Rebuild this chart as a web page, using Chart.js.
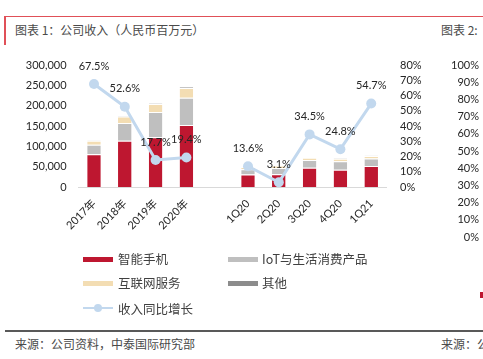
<!DOCTYPE html>
<html><head><meta charset="utf-8">
<script src="https://cdn.jsdelivr.net/npm/chart.js@4.4.1/dist/chart.umd.min.js"></script>
<style>
html,body{margin:0;padding:0;background:#fff;}
#wrap{position:relative;width:483px;height:359px;overflow:hidden;font-family:"Noto Sans CJK SC","Lato",sans-serif;color:#4a4a4a;}
.abs{position:absolute;white-space:nowrap;}
canvas{position:absolute;}
.txt{font-size:12px;line-height:14px;}
.leg{font-size:12.5px;line-height:14px;color:#404040;}
.sw{position:absolute;height:5px;width:30px;}
</style></head>
<body><div id="wrap">
<div class="abs" style="left:4px;top:16px;width:479px;height:1px;background:#E05058;"></div>
<div class="abs" style="left:4px;top:16px;width:2px;height:29px;background:#E05058;"></div>
<div class="abs txt" style="left:15px;top:23px;">图表 1：公司收入（人民币百万元）</div>
<div class="abs txt" style="left:441px;top:23px;">图表 2:</div>

<canvas id="c1" width="483" height="250" style="left:0;top:0;"></canvas>
<canvas id="c2" width="100" height="250" style="left:400px;top:0;"></canvas>

<div class="sw" style="left:83px;top:257px;background:#BE1730;"></div>
<div class="abs leg" style="left:118px;top:252px;">智能手机</div>
<div class="sw" style="left:228px;top:257px;background:#BFBFBF;"></div>
<div class="abs leg" style="left:262px;top:252px;">IoT与生活消费产品</div>
<div class="sw" style="left:83px;top:281px;background:#F3DDB3;"></div>
<div class="abs leg" style="left:118px;top:276px;">互联网服务</div>
<div class="sw" style="left:228px;top:281px;background:#8C8C8C;"></div>
<div class="abs leg" style="left:262px;top:276px;">其他</div>
<div class="abs" style="left:83px;top:307px;width:30px;height:2px;background:#C2D8EE;"></div>
<div class="abs" style="left:94px;top:304px;width:8px;height:8px;border-radius:50%;background:#C2D8EE;"></div>
<div class="abs leg" style="left:118px;top:302px;">收入同比增长</div>

<div class="abs" style="left:480px;top:292px;width:4px;height:6px;background:#BE1730;"></div>

<div class="abs" style="left:5px;top:330px;width:478px;height:2px;background:#595959;"></div>
<div class="abs txt" style="left:15px;top:337px;">来源：公司资料，中泰国际研究部</div>
<div class="abs txt" style="left:441px;top:337px;">来源：公司资料</div>
</div>
<script>
const categories = ['2017年','2018年','2019年','2020年','','1Q20','2Q20','3Q20','4Q20','1Q21'];
const smartphone = [80564,113800,122095,152191,null,30628,31629,47595,42339,51490];
const iot        = [23448,43817,62088,67411,null,12757,15177,18554,20923,18421];
const internet   = [9896,15956,19842,23755,null,5914,5911,5800,6130,6611];
const others     = [721,1342,1814,2509,null,331,290,296,1592,360];
const growth     = [67.5,52.6,17.7,19.4,null,13.6,3.1,34.5,24.8,54.7];
const leftTicks  = {min:0,max:300000,step:50000};
const rightTicks = {min:0,max:80,step:10};
const fig2Ticks  = {min:0,max:100,step:10};

const numFont = {family:'Lato, "Noto Sans CJK SC", sans-serif', size:11};
const tickColor = '#262626';

const labelPlugin = {
  id:'lineLabels',
  afterDatasetsDraw(chart){
    const idx = chart.data.datasets.findIndex(d=>d.type==='line');
    if(idx<0) return;
    const meta = chart.getDatasetMeta(idx);
    const ctx = chart.ctx;
    ctx.save();
    ctx.font = '11px Lato, sans-serif';
    ctx.fillStyle = '#262626';
    ctx.textAlign = 'center';
    ctx.textBaseline = 'middle';
    meta.data.forEach((pt,i)=>{
      const v = growth[i];
      if(v==null) return;
      ctx.fillText(v.toFixed(1)+'%', pt.x, pt.y-18);
    });
    ctx.restore();
  }
};

const barCommon = {type:'bar', stack:'s', order:1, barPercentage:0.44, categoryPercentage:1.0,
  borderColor:'#ffffff', borderWidth:{top:1}, borderSkipped:'bottom'};

new Chart(document.getElementById('c1'), {
  data:{
    labels:categories,
    datasets:[
      {type:'line', label:'收入同比增长', data:growth, yAxisID:'y1', order:0,
        borderColor:'#C2D8EE', backgroundColor:'#C2D8EE', borderWidth:3,
        pointRadius:5, pointBackgroundColor:'#C2D8EE', pointBorderWidth:0,
        spanGaps:false, tension:0},
      Object.assign({label:'智能手机', data:smartphone, backgroundColor:'#BE1730'}, barCommon),
      Object.assign({label:'IoT与生活消费产品', data:iot, backgroundColor:'#BFBFBF'}, barCommon),
      Object.assign({label:'互联网服务', data:internet, backgroundColor:'#F3DDB3'}, barCommon),
      Object.assign({label:'其他', data:others, backgroundColor:'#8C8C8C'}, barCommon)
    ]
  },
  options:{
    responsive:false, animation:false,
    layout:{padding:{top:65,left:0,right:0,bottom:0}},
    plugins:{legend:{display:false}, tooltip:{enabled:false}},
    scales:{
      x:{stacked:true, grid:{display:false}, border:{color:'#D9D9D9',width:1},
         ticks:{autoSkip:false, maxRotation:45, minRotation:45, font:numFont, color:tickColor, padding:2},
         afterFit(s){ s.height = 63; }},
      y:{position:'left', stacked:true, min:leftTicks.min, max:leftTicks.max,
         grid:{display:false, drawTicks:false}, border:{display:false},
         ticks:{autoSkip:false, stepSize:leftTicks.step, padding:12, font:numFont, color:tickColor,
                callback:v=>v.toLocaleString('en-US')},
         afterFit(s){ s.width = 78.6; }},
      y1:{position:'right', min:rightTicks.min, max:rightTicks.max,
         grid:{display:false, drawTicks:false}, border:{display:false},
         ticks:{autoSkip:false, stepSize:rightTicks.step, padding:13.4, font:numFont, color:tickColor,
                callback:v=>v+'%'},
         afterFit(s){ s.width = 96.4; }}
    }
  },
  plugins:[labelPlugin]
});

new Chart(document.getElementById('c2'), {
  type:'bar',
  data:{labels:[''], datasets:[{data:[null]}]},
  options:{
    responsive:false, animation:false,
    layout:{padding:{top:65,left:0,right:0,bottom:13}},
    plugins:{legend:{display:false}, tooltip:{enabled:false}},
    scales:{
      x:{display:false},
      y:{position:'left', min:fig2Ticks.min, max:fig2Ticks.max,
         grid:{display:false, drawTicks:false}, border:{display:false},
         ticks:{autoSkip:false, stepSize:fig2Ticks.step, padding:0, font:numFont, color:tickColor,
                callback:v=>v+'%'},
         afterFit(s){ s.width = 79; }}
    }
  }
});
</script>
</body></html>
